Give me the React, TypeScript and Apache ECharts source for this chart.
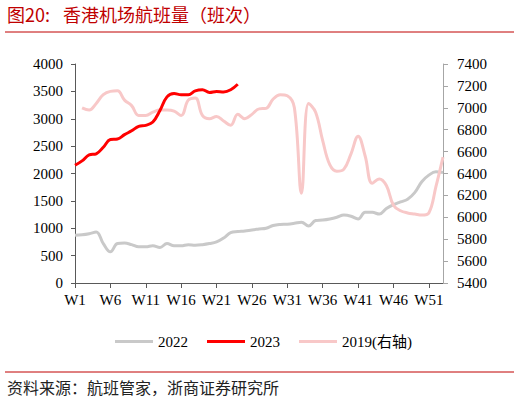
import React, { useEffect, useRef } from "react";
import * as echarts from "echarts";

const weeks: string[] = [];
for (let i = 1; i <= 53; i++) weeks.push("W" + i);

const leftTicks = { min: 0, max: 4000, interval: 500 };
const rightTicks = { min: 5400, max: 7400, interval: 200 };

const series2022: (number | null)[] = [
  870, 880, 900, 930, 720, 570, 720, 730, 700, 660,
  660, 680, 650, 720, 680, 680, 700, 690, 700, 720,
  750, 820, 920, 940, 950, 970, 985, 1000, 1050, 1070,
  1075, 1090, 1110, 1040, 1140, 1150, 1170, 1200, 1240, 1220,
  1170, 1290, 1290, 1260, 1360, 1430, 1480, 1530, 1650, 1850,
  1970, 2030, 2020,
];

const series2023: (number | null)[] = [
  2150, 2230, 2340, 2360, 2480, 2620, 2630, 2710, 2780, 2860,
  2880, 2940, 3150, 3400, 3460, 3440, 3440, 3510, 3530, 3480,
  3500, 3490, 3530, 3630,
];

const series2019: (number | null)[] = [
  null, 7000, 6980, 7040, 7120, 7150, 7155, 7070, 7020, 6930,
  6930, 6960, 6980, 6980, 6970, 6930, 7070, 7090, 6930, 6900,
  6920, 6880, 6840, 6940, 6900, 6940, 6990, 6995, 7080, 7120,
  7110, 7000, 6220, 7040, 6960, 6700, 6480, 6420, 6440, 6580,
  6740, 6560, 6310, 6350, 6290, 6110, 6060, 6040, 6030, 6020,
  6040, 6280, 6550,
];

const legendNames = ["2022", "2023", "2019(右轴)"];
const titleNum = "图20:";
const titleText = "香港机场航班量（班次）";
const sourceText = "资料来源：航班管家，浙商证券研究所";

const SERIF = "'Liberation Serif', 'Times New Roman', 'Noto Sans CJK SC', serif";
const CJK = "'Noto Sans CJK SC', sans-serif";

const plain = (v: number) => String(v);

export default function App() {
  const ref = useRef<HTMLDivElement>(null);
  useEffect(() => {
    document.body.style.margin = "0";
    const chart = echarts.init(ref.current!, undefined, { renderer: "svg" });
    chart.setOption({
      animation: false,
      backgroundColor: "#ffffff",
      grid: { left: 75, right: 77, top: 64, bottom: 120, containLabel: false },
      legend: {
        data: legendNames,
        left: 110,
        top: 329,
        icon: "rect",
        itemWidth: 38,
        itemHeight: 3,
        itemGap: 19,
        textStyle: { fontFamily: SERIF, fontSize: 15, color: "#000" },
      },
      xAxis: {
        type: "category",
        data: weeks,
        boundaryGap: false,
        axisLine: { lineStyle: { color: "#595959", width: 1 } },
        axisTick: { show: true, interval: 4, length: 5, lineStyle: { color: "#595959" } },
        axisLabel: { interval: 4, fontFamily: SERIF, fontSize: 15, color: "#000", margin: 9 },
        splitLine: { show: false },
      },
      yAxis: [
        {
          type: "value",
          position: "left",
          min: leftTicks.min,
          max: leftTicks.max,
          interval: leftTicks.interval,
          axisLine: { show: true, lineStyle: { color: "#595959" } },
          axisTick: { show: true, length: 4, lineStyle: { color: "#595959" } },
          axisLabel: { fontFamily: SERIF, fontSize: 15, color: "#000", margin: 12, formatter: plain },
          splitLine: { show: false },
        },
        {
          type: "value",
          position: "right",
          min: rightTicks.min,
          max: rightTicks.max,
          interval: rightTicks.interval,
          axisLine: { show: true, lineStyle: { color: "#a6a6a6" } },
          axisTick: { show: true, length: 5, lineStyle: { color: "#a6a6a6" } },
          axisLabel: { fontFamily: SERIF, fontSize: 15, color: "#000", margin: 14, formatter: plain },
          splitLine: { show: false },
        },
      ],
      series: [
        {
          name: "2022",
          type: "line",
          data: series2022,
          yAxisIndex: 0,
          smooth: 0.4,
          symbol: "none",
          lineStyle: { color: "#c9c9c9", width: 3 },
          itemStyle: { color: "#c9c9c9" },
        },
        {
          name: "2019(右轴)",
          type: "line",
          data: series2019,
          yAxisIndex: 1,
          smooth: 0.4,
          symbol: "none",
          lineStyle: { color: "#f8c8c8", width: 3 },
          itemStyle: { color: "#f8c8c8" },
        },
        {
          name: "2023",
          type: "line",
          data: series2023,
          yAxisIndex: 0,
          smooth: 0.4,
          symbol: "none",
          lineStyle: { color: "#ff0000", width: 3 },
          itemStyle: { color: "#ff0000" },
        },
      ],
      graphic: [
        {
          type: "text",
          left: 7,
          top: 5,
          style: { text: titleNum, fontFamily: CJK, fontSize: 18, fill: "#c00000" },
        },
        {
          type: "text",
          left: 63,
          top: 5,
          style: { text: titleText, fontFamily: CJK, fontSize: 18, fill: "#c00000" },
        },
        {
          type: "line",
          shape: { x1: 5, y1: 32, x2: 514, y2: 32 },
          style: { stroke: "#c00000", lineWidth: 1 },
        },
        {
          type: "line",
          shape: { x1: 5, y1: 372, x2: 514, y2: 372 },
          style: { stroke: "#c00000", lineWidth: 1 },
        },
        {
          type: "text",
          left: 7,
          top: 379,
          style: { text: sourceText, fontFamily: CJK, fontSize: 16, fill: "#222" },
        },
      ],
    });
    return () => chart.dispose();
  }, []);
  return <div ref={ref} style={{ width: 520, height: 403 }} />;
}
